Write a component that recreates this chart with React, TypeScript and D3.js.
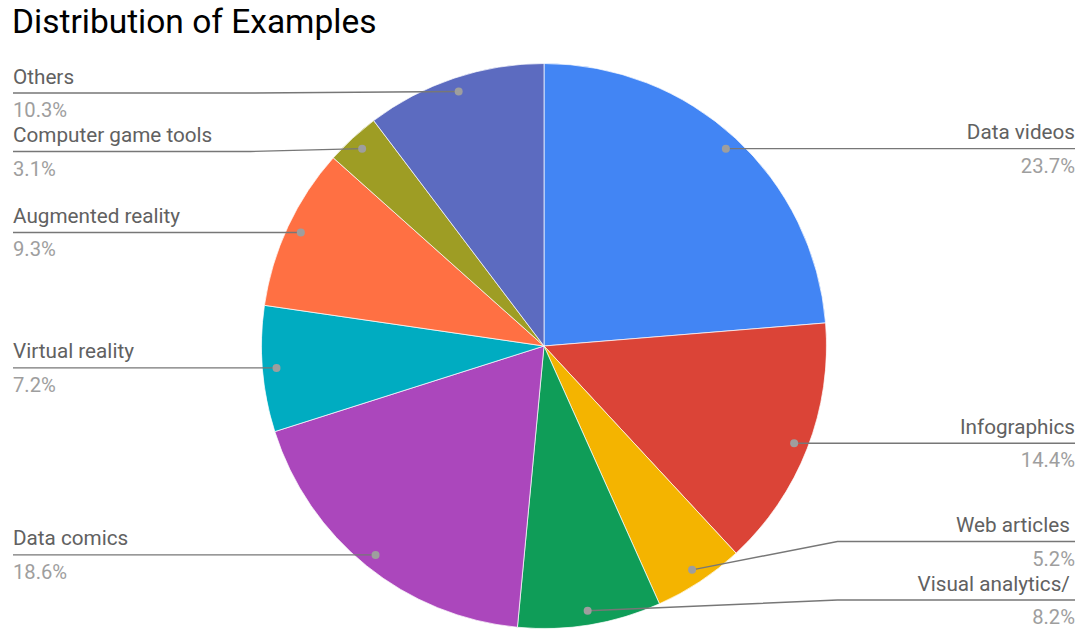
import React from "react";
import * as d3 from "d3";

const categories = [
  "Data videos",
  "Infographics",
  "Web articles ",
  "Visual analytics/ ",
  "Data comics",
  "Virtual reality",
  "Augmented reality",
  "Computer game tools",
  "Others",
];
const values = [23.7, 14.4, 5.2, 8.2, 18.6, 7.2, 9.3, 3.1, 10.3];
const percentLabels = ["23.7%", "14.4%", "5.2%", "8.2%", "18.6%", "7.2%", "9.3%", "3.1%", "10.3%"];
const colors = ["#4285f4", "#db4437", "#f4b400", "#0f9d58", "#ab47bc", "#00acc1", "#ff7043", "#9e9d24", "#5c6bc0"];

const W = 1083;
const H = 629;
const CX = 544;
const CY = 346;
const R = 282.5;
const GAP = 58.5;
const MIN_Y = 93;
const MAX_Y = 600;

type Lbl = { i: number; dx: number; dy: number; ly: number; right: boolean };

export default function App() {
  const data = values.map((v, i) => ({ v, i }));
  const pie = d3.pie<{ v: number; i: number }>().value((d) => d.v).sort(null);
  const arcs = pie(data);
  const arc = d3.arc<d3.PieArcDatum<{ v: number; i: number }>>().innerRadius(0).outerRadius(R);
  const dotArc = d3
    .arc<d3.PieArcDatum<{ v: number; i: number }>>()
    .innerRadius(R * 0.95)
    .outerRadius(R * 0.95);

  const labels: Lbl[] = arcs.map((a) => {
    const [x, y] = dotArc.centroid(a);
    const mid = (a.startAngle + a.endAngle) / 2;
    return { i: a.data.i, dx: CX + x, dy: CY + y, ly: CY + y, right: mid < Math.PI };
  });

  const layout = (side: Lbl[]) => {
    side.sort((a, b) => a.dy - b.dy);
    for (let k = 0; k < side.length; k++) {
      side[k].ly = Math.max(side[k].ly, MIN_Y);
      if (k > 0 && side[k].ly < side[k - 1].ly + GAP) side[k].ly = side[k - 1].ly + GAP;
    }
    for (let k = side.length - 1; k >= 0; k--) {
      if (side[k].ly > MAX_Y) side[k].ly = MAX_Y;
      if (k < side.length - 1 && side[k].ly > side[k + 1].ly - GAP) side[k].ly = side[k + 1].ly - GAP;
    }
  };
  layout(labels.filter((l) => l.right));
  layout(labels.filter((l) => !l.right));

  const font = "Roboto, 'Noto Sans', sans-serif";
  const rightX = 1075;
  const leftX = 13;

  return (
    <svg
      width={W}
      height={H}
      style={{ position: "absolute", left: 0, top: 0, background: "#fff" }}
      fontFamily={font}
    >
      <text x={12} y={33} fontSize={33.5} fill="#000">
        Distribution of Examples
      </text>
      <g transform={`translate(${CX},${CY})`}>
        {arcs.map((a) => (
          <path key={a.data.i} d={arc(a) || ""} fill={colors[a.data.i]} stroke="#fff" strokeWidth={0.7} />
        ))}
      </g>
      {labels.map((l) => {
        const elbowX = l.right ? CX + R + 11 : CX - R - 11;
        const endX = l.right ? rightX : leftX;
        const pts: [number, number][] =
          Math.abs(l.ly - l.dy) > 0.5
            ? [
                [l.dx, l.dy],
                [elbowX, l.ly],
                [endX, l.ly],
              ]
            : [
                [l.dx, l.dy],
                [endX, l.ly],
              ];
        const line = d3.line()(pts) || "";
        return (
          <g key={l.i}>
            <path d={line} fill="none" stroke="#777" strokeWidth={1.4} />
            <circle cx={l.dx} cy={l.dy} r={4} fill="#9e9e9e" />
            <text
              x={endX}
              y={l.ly - 9.5}
              fontSize={20.7}
              fill="#616161"
              textAnchor={l.right ? "end" : "start"}
              style={{ whiteSpace: "pre" }}
            >
              {categories[l.i]}
            </text>
            <text
              x={endX}
              y={l.ly + 24}
              fontSize={20.2}
              fill="#9e9e9e"
              textAnchor={l.right ? "end" : "start"}
            >
              {percentLabels[l.i]}
            </text>
          </g>
        );
      })}
    </svg>
  );
}
